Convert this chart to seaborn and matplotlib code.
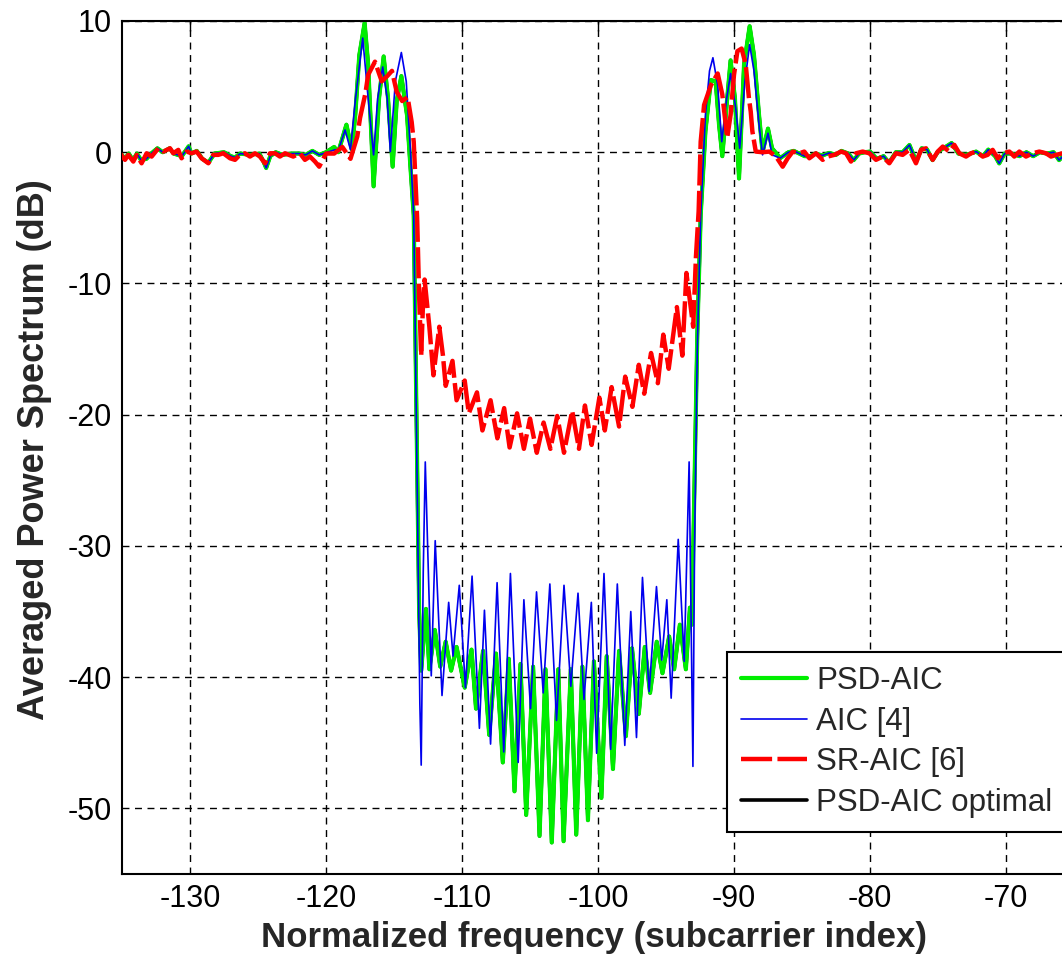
import numpy as np
import seaborn as sns
import matplotlib.pyplot as plt

# noise floor outside the notch (shared by PSD-AIC and AIC)
left_x = [-135.15, -134.8, -134.5, -134.2, -133.9, -133.6, -133.2, -132.85, -132.4, -132.0,
          -131.5, -131.2, -130.6, -130.1, -129.9, -129.5, -129.1, -128.65, -128.2, -127.5,
          -127.0, -126.7, -126.3, -125.6, -124.9, -124.6, -124.4, -124.1, -123.7, -123.2,
          -122.5, -122.0, -121.5, -121.0, -120.5]
left_y = [0.0, -0.5, -0.1, -0.6, -0.1, -0.6, -0.5, -0.1, 0.3, 0.0,
          0.3, -0.1, -0.3, 0.45, -0.1, 0.1, -0.5, -0.8, -0.1, 0.0,
          -0.3, -0.4, -0.1, -0.2, -0.1, -0.7, -1.2, -0.3, 0.0, -0.2,
          -0.1, -0.1, -0.2, 0.1, -0.2]

right_x = [-86.6, -86.0, -85.6, -85.2, -84.8, -84.4, -84.0, -83.5, -83.0, -82.5,
           -82.1, -81.6, -81.2, -80.8, -80.4, -80.0, -79.5, -79.0, -78.6, -78.1,
           -77.6, -77.1, -76.6, -76.2, -75.8, -75.4, -75.0, -74.6, -74.0, -73.5,
           -73.0, -72.6, -72.2, -71.7, -71.3, -70.8, -70.5, -70.1, -69.6, -69.0,
           -68.5, -68.0, -67.5, -67.0, -66.5, -66.1, -65.7, -65.2, -64.5]
right_y = [-0.45, 0.0, 0.1, -0.1, -0.3, -0.3, -0.1, -0.25, -0.05, -0.2,
           0.1, -0.1, -0.6, -0.1, 0.0, 0.05, -0.5, -0.3, -0.8, 0.0,
           0.0, 0.55, -0.7, 0.3, 0.2, -0.6, 0.05, 0.3, 0.7, -0.1,
           -0.2, -0.1, 0.05, -0.3, 0.2, -0.3, -0.85, -0.1, -0.1, -0.3,
           0.0, -0.3, 0.0, -0.1, 0.0, -0.6, -0.2, -0.05, 0.0]

# PSD-AIC, edges and notch
psd_mid_x = [-120.0, -119.4, -119.1, -118.5, -118.1, -117.85, -117.55, -117.16, -116.9, -116.5,
             -116.1, -115.76, -115.44, -115.1, -114.8, -114.46, -114.04, -113.8, -113.55, -113.35,
             -113.15, -113.0, -112.65, -112.4, -112.0, -111.6, -111.2, -110.8, -110.4, -109.8,
             -109.3, -108.97, -108.45, -108.0, -107.5, -107.0, -106.56, -106.14, -105.7, -105.28,
             -104.77, -104.3, -103.86, -103.4, -102.92, -102.53, -102.0, -101.6, -101.15, -100.74,
             -100.3, -99.75, -99.36, -98.9, -98.45, -97.95, -97.5, -97.0, -96.56, -96.17,
             -95.68, -95.26, -94.77, -94.4, -93.98, -93.54, -93.24, -93.1, -92.9, -92.7,
             -92.45, -92.1, -91.7, -91.35, -91.1, -90.86, -90.5, -90.25, -89.93, -89.63,
             -89.26, -88.85, -88.53, -88.16, -87.9, -87.5, -87.2]
psd_mid_y = [0.0, 0.4, 0.0, 2.1, 0.2, 2.8, 7.4, 9.85, 6.7, -2.6,
             4.1, 7.3, 4.1, -1.1, 3.9, 5.8, 2.8, -1.0, -4.8, -20.0,
             -35.0, -39.5, -34.8, -39.4, -36.4, -39.2, -37.3, -39.5, -37.7, -40.8,
             -37.9, -42.4, -38.0, -44.4, -38.2, -46.5, -38.6, -48.7, -39.0, -50.5,
             -39.2, -52.1, -39.4, -52.6, -39.4, -52.5, -39.4, -52.0, -39.2, -50.9,
             -38.8, -49.2, -38.4, -47.0, -38.0, -44.5, -37.8, -42.8, -37.7, -41.2,
             -37.3, -39.7, -36.9, -39.4, -36.0, -39.4, -34.7, -36.0, -25.0, -14.0,
             -4.8, 1.6, 5.5, 5.4, 2.1, -0.3, 4.1, 7.0, 4.1, -2.0,
             6.7, 9.6, 7.4, 2.85, 0.0, 1.8, 0.3]

# AIC [4], edges and notch
aic_mid_x = [-119.3, -119.1, -118.6, -118.2, -117.85, -117.3, -116.9, -116.5, -116.2, -115.83,
             -115.5, -115.27, -114.9, -114.46, -114.1, -113.8, -113.55, -113.3, -113.1, -113.0,
             -112.85, -112.7, -112.26, -111.97, -111.47, -110.98, -110.66, -110.2, -109.75, -109.26,
             -108.72, -108.35, -107.9, -107.42, -106.93, -106.44, -105.87, -105.45, -104.96, -104.52,
             -104.03, -103.54, -103.05, -102.5, -102.0, -101.47, -101.03, -100.49, -100.1, -99.56,
             -99.07, -98.58, -98.03, -97.59, -97.17, -96.73, -96.24, -95.7, -95.31, -94.94,
             -94.62, -94.1, -93.66, -93.3, -93.02, -92.9, -92.7, -92.45, -92.1, -91.8,
             -91.55, -91.2, -90.9, -90.54, -90.25, -89.88, -89.58, -89.2, -88.85, -88.53,
             -88.16, -87.9, -87.5, -87.2]
aic_mid_y = [0.2, 0.1, 1.7, 0.2, 3.9, 8.7, 4.1, -0.2, 4.1, 6.5,
             4.1, 0.05, 5.4, 7.6, 5.4, 0.3, -4.8, -25.0, -42.0, -46.7,
             -32.0, -23.6, -39.9, -29.6, -41.4, -34.3, -38.4, -33.0, -40.8, -32.3,
             -43.9, -34.9, -45.1, -32.8, -45.7, -32.1, -46.5, -34.1, -42.4, -33.5,
             -41.2, -32.9, -43.3, -33.0, -40.7, -33.6, -41.7, -34.3, -45.8, -32.1,
             -45.5, -32.9, -45.2, -35.0, -44.6, -32.4, -41.1, -33.1, -38.7, -34.1,
             -41.6, -29.5, -38.8, -23.6, -46.8, -30.0, -15.0, -4.8, 2.85, 6.2,
             7.2, 5.1, 0.8, 4.1, 6.0, 3.4, 0.3, 5.4, 8.2, 6.2,
             2.1, -0.2, 1.45, -0.2]

# SR-AIC [6], full span
sr_x = [-135.15, -134.78, -134.54, -134.17, -133.92, -133.56, -133.19, -132.82, -132.33, -131.96,
        -131.47, -131.23, -130.86, -130.62, -130.25, -129.88, -129.51, -129.15, -128.65, -128.29,
        -127.92, -127.55, -127.06, -126.69, -126.33, -125.96, -125.59, -125.22, -124.86, -124.49,
        -124.12, -123.75, -123.39, -123.02, -122.41, -121.92, -121.55, -121.18, -120.81, -120.5,
        -120.0, -119.4, -118.8, -118.2, -117.7, -117.5, -117.1, -116.9, -116.4, -115.9,
        -115.5, -115.15, -114.8, -114.4, -114.0, -113.7, -113.55, -113.3, -113.15, -113.0,
        -112.85, -112.75, -112.4, -112.1, -111.67, -111.4, -111.2, -110.7, -110.4, -109.8,
        -109.5, -108.9, -108.5, -107.9, -107.4, -106.9, -106.5, -105.95, -105.45, -105.0,
        -104.5, -104.0, -103.5, -103.0, -102.5, -101.9, -101.4, -100.96, -100.47, -99.9,
        -99.5, -99.0, -98.45, -98.0, -97.47, -97.0, -96.6, -96.1, -95.6, -95.2,
        -94.8, -94.2, -93.8, -93.5, -93.0, -92.8, -92.6, -92.45, -92.2, -91.7,
        -91.2, -90.86, -90.5, -90.25, -90.0, -89.75, -89.44, -89.14, -88.9, -88.77,
        -88.65, -88.4, -87.9, -87.4, -86.91, -86.42, -86.05, -85.68, -85.19, -84.83,
        -84.46, -83.97, -83.48, -83.11, -82.62, -82.13, -81.76, -81.4, -81.03, -80.54,
        -80.05, -79.56, -79.07, -78.58, -78.09, -77.6, -77.11, -76.62, -76.25, -75.88,
        -75.39, -75.02, -74.65, -74.16, -73.8, -73.43, -72.94, -72.57, -72.2, -71.71,
        -71.35, -70.98, -70.61, -70.24, -69.75, -69.39, -69.02, -68.53, -68.04, -67.55,
        -67.06, -66.69, -66.32, -65.83, -65.4, -64.5]
sr_y = [-0.08, -0.58, -0.2, -0.71, -0.2, -0.84, -0.08, -0.33, 0.3, 0.05,
        0.3, -0.08, 0.18, -0.46, 0.05, -0.08, 0.05, -0.46, -0.84, -0.2,
        -0.2, -0.08, -0.46, -0.58, -0.2, -0.08, -0.33, -0.08, -0.33, -0.84,
        -0.08, -0.08, -0.33, -0.08, -0.33, -0.08, -0.58, -0.33, -0.71, -1.1,
        -0.1, -0.1, 0.4, -0.5, 1.2, 2.6, 4.5, 5.9, 6.9, 5.4,
        5.8, 6.2, 4.6, 3.9, 4.2, 2.3, 0.8, -5.0, -11.0, -15.5,
        -11.0, -9.7, -13.3, -17.0, -13.3, -15.5, -17.8, -15.9, -18.9, -17.4,
        -19.9, -18.3, -21.2, -18.9, -21.8, -19.5, -22.5, -19.9, -22.6, -20.3,
        -22.9, -20.6, -22.6, -20.1, -22.9, -19.7, -22.6, -19.3, -22.3, -18.7,
        -21.2, -17.9, -20.9, -17.1, -19.4, -16.2, -18.4, -15.3, -17.6, -13.9,
        -16.5, -11.8, -15.5, -9.2, -13.3, -8.0, -4.5, 0.8, 3.6, 5.1,
        6.0, 4.4, 1.1, 2.85, 5.9, 7.7, 7.9, 6.7, 4.1, 3.1,
        1.6, 0.05, 0.0, 0.05, -0.33, -1.1, -0.46, 0.05, -0.08, 0.05,
        -0.46, -0.08, -0.58, -0.33, -0.2, 0.05, -0.08, -0.71, -0.08, 0.05,
        -0.08, -0.58, -0.33, -0.84, -0.08, -0.2, 0.18, -0.84, 0.18, 0.3,
        -0.58, 0.05, 0.43, 0.05, 0.56, -0.08, -0.33, -0.08, 0.05, -0.33,
        -0.2, 0.18, -0.46, -0.08, 0.05, -0.33, 0.05, -0.33, -0.08, 0.05,
        -0.08, -0.33, -0.2, -0.08, -0.3, 0.0]

psd_x = left_x + psd_mid_x + right_x
psd_y = left_y + psd_mid_y + right_y
aic_x = left_x + aic_mid_x + right_x
aic_y = left_y + aic_mid_y + right_y

sns.set_style("white")
plt.rcParams['font.family'] = ['Liberation Sans', 'DejaVu Sans']
plt.rcParams['axes.unicode_minus'] = False

fig = plt.figure(figsize=(10.62, 9.58), dpi=100)
ax = fig.add_axes([122 / 1062, 1 - 874 / 958, 952 / 1062, 853 / 958])

# the optimal curve sits under PSD-AIC and is hidden by it
sns.lineplot(x=psd_x, y=psd_y, ax=ax, color='black', lw=2.6, sort=False,
             label='PSD-AIC optimal', zorder=1)
sns.lineplot(x=psd_x, y=psd_y, ax=ax, color='#00ee00', lw=3.0, sort=False,
             label='PSD-AIC', zorder=2)
sns.lineplot(x=aic_x, y=aic_y, ax=ax, color='#0000ee', lw=1.2, sort=False,
             label='AIC [4]', zorder=3)
sns.lineplot(x=sr_x, y=sr_y, ax=ax, color='#ff0000', lw=3.2, sort=False,
             ls=(0, (7, 1.2)), label='SR-AIC [6]', zorder=4)

ax.set_xlim(-135, -65)
ax.set_ylim(-55, 10)
ax.set_xticks(np.arange(-130, -65, 10))
ax.set_yticks(np.arange(-50, 11, 10))
ax.grid(True, color='black', ls=(0, (5, 4)), lw=1.0)
ax.tick_params(direction='in', length=7, width=1, top=True, right=True,
               labelsize=22, pad=7.5, colors='black')
for s in ax.spines.values():
    s.set_color('black')
    s.set_linewidth(1.5)

ax.set_xlabel('Normalized frequency (subcarrier index)', fontsize=25, fontweight='bold')
ax.set_ylabel('Averaged Power Spectrum (dB)', fontsize=26, fontweight='bold')
ax.xaxis.set_label_coords(0.496, (874 - 921) / 853)
ax.yaxis.set_label_coords((52 - 122) / 952, 0.498)

handles, labels = ax.get_legend_handles_labels()
order = ['PSD-AIC', 'AIC [4]', 'SR-AIC [6]', 'PSD-AIC optimal']
hmap = dict(zip(labels, handles))
leg = ax.legend([hmap[k] for k in order], order, loc='upper left',
                bbox_to_anchor=((727 - 122) / 952, (874 - 652) / 853), fontsize=22.5,
                frameon=True, fancybox=False, edgecolor='black', framealpha=1,
                handlelength=2.1, labelspacing=0.34, borderpad=0.45,
                handletextpad=0.3, borderaxespad=0)
leg.get_frame().set_linewidth(1.5)

fig.savefig('out.png', dpi=100)
